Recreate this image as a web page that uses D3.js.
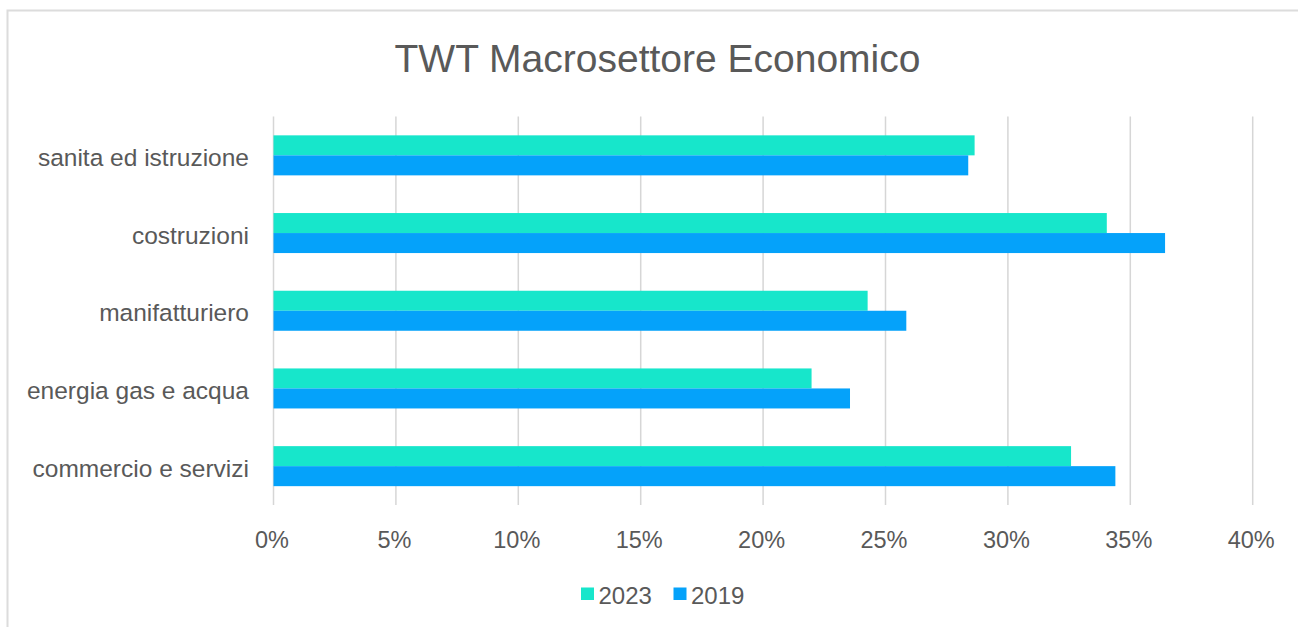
<!DOCTYPE html>
<html>
<head>
<meta charset="utf-8">
<script src="https://cdn.jsdelivr.net/npm/d3@7"></script>
<style>
  html, body { margin: 0; padding: 0; background: #ffffff; }
  svg text { font-family: "Liberation Sans", Arial, Helvetica, sans-serif; fill: #595959; }
</style>
</head>
<body>
<svg id="chart" width="1298" height="627"></svg>
<script>
// Sectors, top to bottom
const categories = [
  "sanita ed istruzione",
  "costruzioni",
  "manifatturiero",
  "energia gas e acqua",
  "commercio e servizi"
];
const seriesNames = ["2023", "2019"];
const values2023 = [0.2864, 0.3404, 0.2427, 0.2198, 0.3258];
const values2019 = [0.2838, 0.3642, 0.2585, 0.2355, 0.3439];
const xTicks = [0, 0.05, 0.10, 0.15, 0.20, 0.25, 0.30, 0.35, 0.40];
const colors = { "2023": "#17e6cb", "2019": "#05a2fa" };

const svg = d3.select("#chart");

// light frame around the chart area
svg.append("rect")
  .attr("x", 7.5).attr("y", 10.5)
  .attr("width", 1400).attr("height", 700)
  .attr("fill", "none")
  .attr("stroke", "#dcdcdc")
  .attr("stroke-width", 2);

const plot = { left: 273.5, right: 1252.7, top: 116.5, bottom: 505 };

const x = d3.scaleLinear().domain([0, 0.40]).range([plot.left, plot.right]);
const y = d3.scaleBand().domain(categories)
  .range([plot.top, plot.bottom])
  .paddingInner(0.485).paddingOuter(0.2425);
const ySub = d3.scaleBand().domain(seriesNames).range([0, y.bandwidth()]);

// title
svg.append("text")
  .attr("x", 657.5).attr("y", 72)
  .attr("text-anchor", "middle")
  .style("font-size", "39px")
  .text("TWT Macrosettore Economico");

// vertical gridlines
svg.append("g")
  .selectAll("line")
  .data(xTicks)
  .join("line")
  .attr("x1", d => x(d)).attr("x2", d => x(d))
  .attr("y1", plot.top).attr("y2", plot.bottom)
  .attr("stroke", "#d6d6d6")
  .attr("stroke-width", 1.5);

// bars
const rows = categories.map((c, i) => ({
  cat: c,
  vals: [
    { s: "2023", v: values2023[i] },
    { s: "2019", v: values2019[i] }
  ]
}));

svg.append("g")
  .selectAll("g")
  .data(rows)
  .join("g")
  .attr("transform", d => `translate(0,${y(d.cat)})`)
  .selectAll("rect")
  .data(d => d.vals)
  .join("rect")
  .attr("x", x(0))
  .attr("y", d => ySub(d.s))
  .attr("width", d => x(d.v) - x(0))
  .attr("height", ySub.bandwidth())
  .attr("fill", d => colors[d.s]);

// x axis labels
const xAxis = d3.axisBottom(x)
  .tickValues(xTicks)
  .tickFormat(d3.format(".0%"))
  .tickSize(0)
  .tickPadding(0);

const gx = svg.append("g")
  .attr("transform", `translate(0,${plot.bottom})`)
  .call(xAxis);
gx.select(".domain").remove();
gx.selectAll("text")
  .attr("y", 42.5).attr("dy", null)
  .attr("dx", -2)
  .style("font-size", "23.5px")
  .attr("fill", "#595959");

// category labels
const yAxis = d3.axisLeft(y).tickSize(0).tickPadding(0);
const gy = svg.append("g")
  .attr("transform", "translate(249,0)")
  .call(yAxis);
gy.select(".domain").remove();
gy.selectAll("text")
  .attr("dy", null)
  .attr("y", 10.5)
  .attr("x", 0)
  .style("font-size", "24.5px")
  .attr("fill", "#595959");

// legend
const legendItems = [
  { s: "2023", x: 581 },
  { s: "2019", x: 673.5 }
];
const lg = svg.append("g").selectAll("g")
  .data(legendItems)
  .join("g")
  .attr("transform", d => `translate(${d.x},0)`);
lg.append("rect")
  .attr("x", 0).attr("y", 587.5)
  .attr("width", 13).attr("height", 12.5)
  .attr("fill", d => colors[d.s]);
lg.append("text")
  .attr("x", 17.5).attr("y", 603.5)
  .style("font-size", "24px")
  .text(d => d.s);
</script>
</body>
</html>
